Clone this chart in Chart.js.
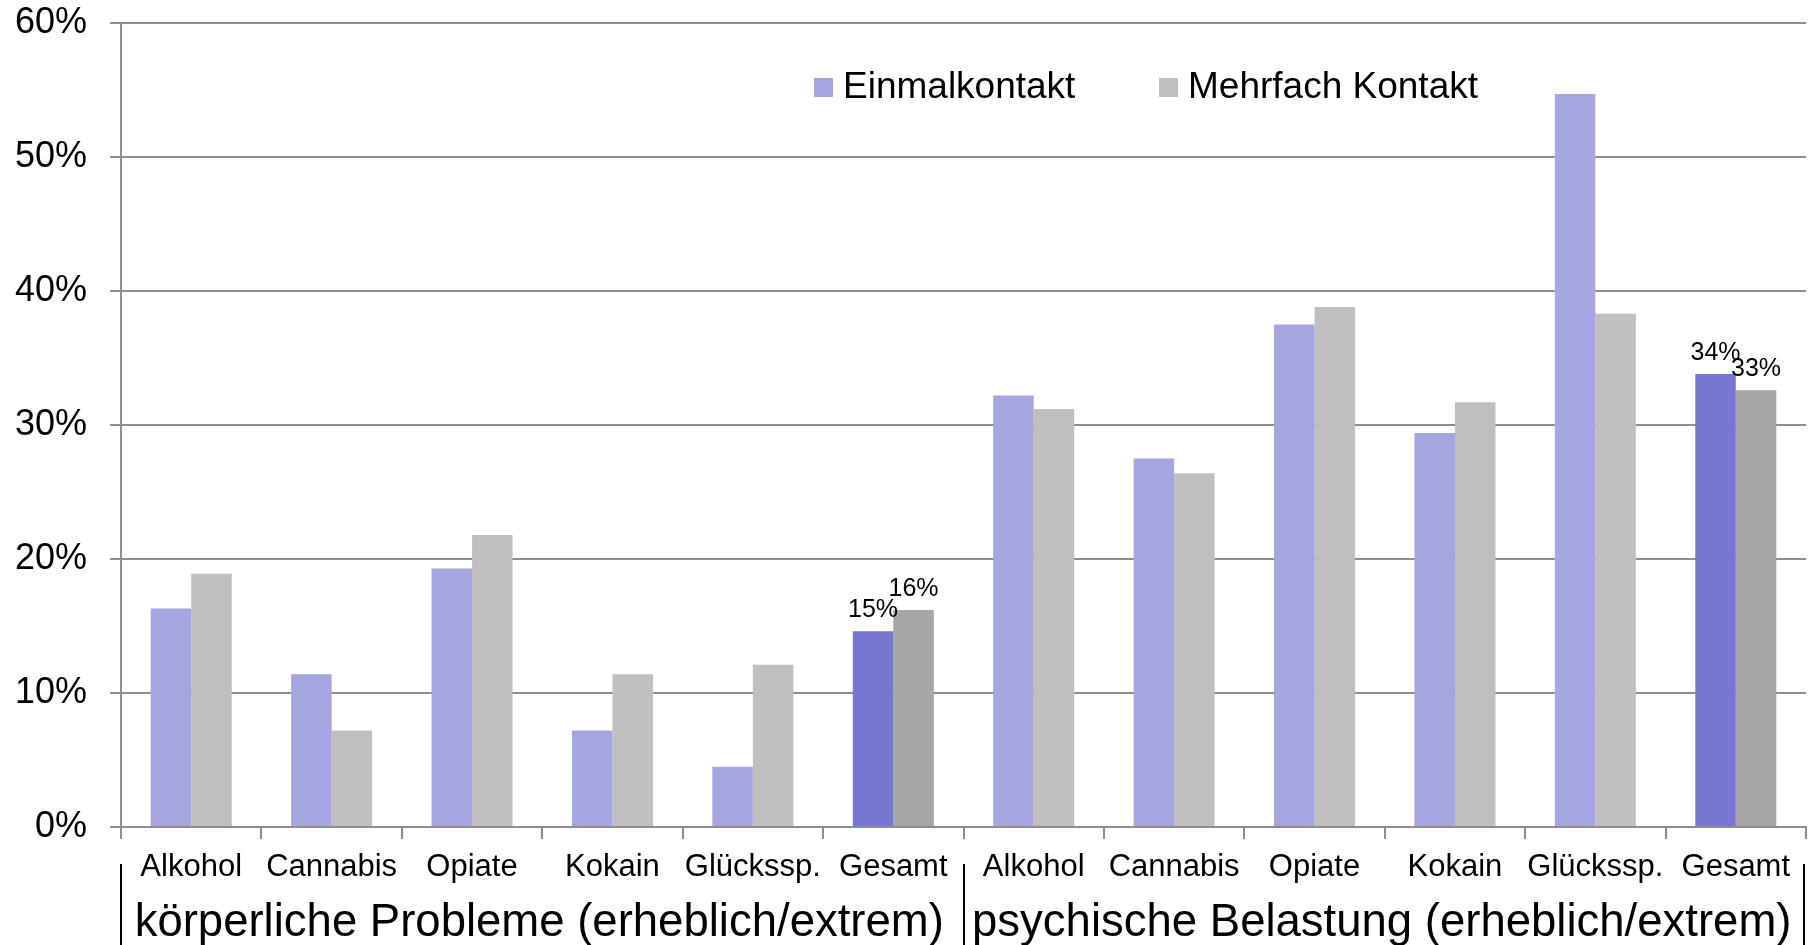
<!DOCTYPE html>
<html lang="de">
<head>
    <meta charset="UTF-8">
    <title>Kontakt – Probleme und Belastung</title>
    <style>
        body {
            margin: 0;
            background: #fff;
        }
        #wrap {
            width: 1816px;
            height: 945px;
        }
    </style>
</head>
<body>
    <div id="wrap">
        <canvas id="chart" width="1816" height="945"></canvas>
    </div>

    <script src="https://cdn.jsdelivr.net/npm/chart.js"></script>
    <script>
        // data (percent)
        const substances = ['Alkohol', 'Cannabis', 'Opiate', 'Kokain', 'Glückssp.', 'Gesamt'];
        const groups = ['körperliche Probleme (erheblich/extrem)', 'psychische Belastung (erheblich/extrem)'];
        const einmalkontakt = [16.3, 11.4, 19.3, 7.2, 4.5, 14.6, 32.2, 27.5, 37.5, 29.4, 54.7, 33.8];
        const mehrfachKontakt = [18.9, 7.2, 21.8, 11.4, 12.1, 16.2, 31.2, 26.4, 38.8, 31.7, 38.3, 32.6];
        const yTicks = [0, 10, 20, 30, 40, 50, 60];
        const seriesNames = ['Einmalkontakt', 'Mehrfach Kontakt'];

        const labels = groups.flatMap(() => substances);
        const isTotal = labels.map(l => l === 'Gesamt');

        const gridColor = '#8e8e8e';
        const font = 'Liberation Sans, Arial, sans-serif';

        // value labels only on the "Gesamt" bars
        const totalLabels = {
            id: 'totalLabels',
            afterDatasetsDraw(chart) {
                const ctx = chart.ctx;
                ctx.save();
                ctx.fillStyle = '#000';
                ctx.font = '25px ' + font;
                ctx.textAlign = 'center';
                ctx.textBaseline = 'alphabetic';
                chart.data.datasets.forEach((ds, di) => {
                    const meta = chart.getDatasetMeta(di);
                    meta.data.forEach((bar, i) => {
                        if (!isTotal[i]) return;
                        ctx.fillText(Math.round(ds.data[i]) + '%', bar.x, bar.y - 14);
                    });
                });
                ctx.restore();
            }
        };

        // legend inside the plot, group captions and separators below the axis
        const extras = {
            id: 'extras',
            afterDraw(chart) {
                const ctx = chart.ctx;
                const x = chart.scales.x;
                const area = chart.chartArea;
                ctx.save();

                // legend
                const legendItems = [
                    { x: 814, color: '#a5a5e0' },
                    { x: 1159, color: '#bfbfbf' }
                ];
                ctx.font = '37px ' + font;
                ctx.textBaseline = 'middle';
                ctx.textAlign = 'left';
                legendItems.forEach((it, i) => {
                    ctx.fillStyle = it.color;
                    ctx.fillRect(it.x, 78, 19, 19);
                    ctx.fillStyle = '#000';
                    ctx.fillText(seriesNames[i], it.x + 29, 88);
                });

                // group captions
                const n = substances.length;
                ctx.font = '45.5px ' + font;
                ctx.textAlign = 'center';
                groups.forEach((g, gi) => {
                    const first = x.getPixelForValue(gi * n);
                    const last = x.getPixelForValue(gi * n + n - 1);
                    ctx.fillText(g, (first + last) / 2 - 3, 923);
                });

                // separators
                const step = (area.right - area.left) / labels.length;
                ctx.strokeStyle = '#000';
                ctx.lineWidth = 2;
                [0, n, 2 * n].forEach(k => {
                    const px = Math.round(area.left + k * step) - (k === 2 * n ? 2 : 0);
                    ctx.beginPath();
                    ctx.moveTo(px, 864);
                    ctx.lineTo(px, 945);
                    ctx.stroke();
                });
                ctx.restore();
            }
        };

        new Chart(document.getElementById('chart'), {
            type: 'bar',
            data: {
                labels: labels,
                datasets: [
                    {
                        label: seriesNames[0],
                        data: einmalkontakt,
                        backgroundColor: isTotal.map(t => t ? '#7777cf' : '#a5a5e0'),
                        borderWidth: 0,
                        categoryPercentage: 0.577,
                        barPercentage: 1
                    },
                    {
                        label: seriesNames[1],
                        data: mehrfachKontakt,
                        backgroundColor: isTotal.map(t => t ? '#a6a6a6' : '#bfbfbf'),
                        borderWidth: 0,
                        categoryPercentage: 0.577,
                        barPercentage: 1
                    }
                ]
            },
            options: {
                responsive: false,
                animation: false,
                layout: {
                    padding: { top: 23, right: 10, left: 0, bottom: 0 }
                },
                plugins: {
                    legend: { display: false },
                    tooltip: { enabled: false }
                },
                scales: {
                    x: {
                        afterFit: s => { s.height = 118; },
                        grid: {
                            offset: true,
                            drawOnChartArea: false,
                            drawTicks: true,
                            tickLength: 12,
                            color: gridColor,
                            lineWidth: 2
                        },
                        border: { display: true, color: gridColor, width: 2 },
                        ticks: {
                            autoSkip: false,
                            maxRotation: 0,
                            padding: 10,
                            color: '#000',
                            font: { family: font, size: 31 }
                        }
                    },
                    y: {
                        min: yTicks[0],
                        max: yTicks[yTicks.length - 1],
                        afterFit: s => {
                            s.width = 121;
                            s.paddingTop = 0;
                            s.paddingBottom = 0;
                        },
                        afterBuildTicks: s => { s.ticks = yTicks.map(v => ({ value: v })); },
                        grid: {
                            color: gridColor,
                            lineWidth: 2,
                            tickLength: 11
                        },
                        border: { display: true, color: gridColor, width: 2 },
                        ticks: {
                            padding: 23,
                            color: '#000',
                            font: { family: font, size: 36 },
                            callback: v => v + '%'
                        }
                    }
                }
            },
            plugins: [totalLabels, extras]
        });
    </script>
</body>
</html>
